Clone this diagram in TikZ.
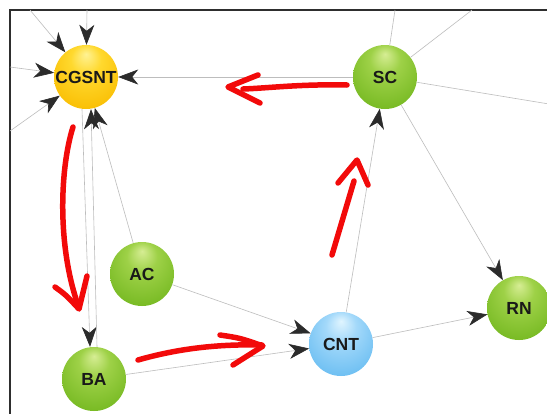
\documentclass[tikz,border=0pt]{standalone}
\usepackage{fontspec}
\setmainfont{Liberation Sans}
\usetikzlibrary{arrows.meta}

\definecolor{edgegray}{gray}{0.74}
\definecolor{tipgray}{gray}{0.17}
\definecolor{frameclr}{gray}{0.18}
\definecolor{marker}{rgb}{0.95,0.04,0.04}
\definecolor{labelclr}{gray}{0.1}

% sphere colours
\definecolor{grnA}{rgb}{0.84,0.93,0.58}
\definecolor{grnB}{rgb}{0.62,0.82,0.28}
\definecolor{grnC}{rgb}{0.47,0.73,0.14}
\definecolor{grnD}{rgb}{0.40,0.67,0.10}
\definecolor{grnE}{rgb}{0.50,0.76,0.18}
\definecolor{ylwA}{rgb}{1.00,0.95,0.58}
\definecolor{ylwB}{rgb}{1.00,0.85,0.18}
\definecolor{ylwC}{rgb}{0.98,0.75,0.02}
\definecolor{ylwD}{rgb}{0.94,0.62,0.00}
\definecolor{ylwE}{rgb}{0.97,0.72,0.05}
\definecolor{bluA}{rgb}{0.88,0.96,1.00}
\definecolor{bluB}{rgb}{0.64,0.85,0.98}
\definecolor{bluC}{rgb}{0.43,0.75,0.95}
\definecolor{bluD}{rgb}{0.30,0.65,0.92}
\definecolor{bluE}{rgb}{0.42,0.74,0.95}

\pgfdeclareradialshading{greensphere}{\pgfpoint{0bp}{18bp}}{color(0bp)=(grnA); color(12bp)=(grnB); color(32bp)=(grnC); color(46bp)=(grnD); color(50bp)=(grnE)}
\pgfdeclareradialshading{yellowsphere}{\pgfpoint{0bp}{18bp}}{color(0bp)=(ylwA); color(12bp)=(ylwB); color(32bp)=(ylwC); color(46bp)=(ylwD); color(50bp)=(ylwE)}
\pgfdeclareradialshading{bluesphere}{\pgfpoint{0bp}{18bp}}{color(0bp)=(bluA); color(12bp)=(bluB); color(32bp)=(bluC); color(46bp)=(bluD); color(50bp)=(bluE)}

\tikzset{
  sphere/.style={circle, minimum size=64pt, inner sep=0pt,
    font=\bfseries\fontsize{17.5}{17.5}\selectfont, text=labelclr},
  greenball/.style={sphere, shading=greensphere},
  yellowball/.style={sphere, shading=yellowsphere},
  blueball/.style={sphere, shading=bluesphere},
  link/.style={draw=edgegray, line width=0.6pt},
  arc/.style={link, -{Stealth[length=20pt, width=15pt, inset=6pt, color=tipgray]}},
  stroke/.style={draw=marker, line width=5.5pt, line cap=round, line join=round},
}

\begin{document}
\begin{tikzpicture}[x=1pt, y=-1pt]
\useasboundingbox (0,0) rectangle (547,413);
\clip (0,0) rectangle (547,413);
\fill[white] (0,0) rectangle (547,413);

% frame
\draw[frameclr, line width=2.2pt] (10,415) -- (10,10) -- (549,10);

% nodes
\node[yellowball] (cgsnt) at (86,77)  {CGSNT};
\node[greenball]  (sc)    at (385,77) {SC};
\node[greenball]  (ac)    at (142,274){AC};
\node[greenball]  (ba)    at (94,379) {BA};
\node[blueball]   (cnt)   at (341,344){CNT};
\node[greenball]  (rn)    at (519,308){RN};

% free ends of links leaving the drawing area
\coordinate (inNW)  at (30,10);
\coordinate (inN)   at (87,10);
\coordinate (inW)   at (10,67);
\coordinate (inSW)  at (10,131);
\coordinate (outN)  at (395,10);
\coordinate (outNE) at (472,10);
\coordinate (outE)  at (549,104);

% links
\draw[arc] (inNW) -- (cgsnt);
\draw[arc] (inN)  -- (cgsnt);
\draw[arc] (inW)  -- (cgsnt);
\draw[arc] (inSW) -- (cgsnt);
\draw[arc] (sc) -- (cgsnt);
\draw[arc] ([xshift=-4pt]cgsnt.south) -- ([xshift=-4pt]ba.north);
\draw[arc] ([xshift=3pt]ba.north) -- ([xshift=5pt]cgsnt.south);
\draw[arc] (ac) -- (cgsnt);
\draw[arc] (ac) -- (cnt);
\draw[arc] (ba) -- (cnt);
\draw[arc] (cnt) -- (sc);
\draw[arc] (cnt) -- (rn);
\draw[arc] (sc) -- (rn);
\draw[link] (sc) -- (outN);
\draw[link] (sc) -- (outNE);
\draw[link] (sc) -- (outE);

% hand-drawn red arrows
\draw[stroke] (73,127) .. controls (60,168) and (57,245) .. (78,305);
\draw[stroke] (55,287) .. controls (66,295) .. (79,309) -- (87,276);

\draw[stroke] (138,360) .. controls (180,348) and (220,344) .. (262,345);
\draw[stroke] (220,335) .. controls (240,338) .. (263,346) -- (233,365);

\draw[stroke] (332,255) -- (354,181);
\draw[stroke] (338,183) -- (357,160) -- (368,185);

\draw[stroke] (347,85) .. controls (300,84) and (270,88) .. (243,89);
\draw[stroke] (258,75) -- (228,87) -- (260,103);
\end{tikzpicture}
\end{document}
